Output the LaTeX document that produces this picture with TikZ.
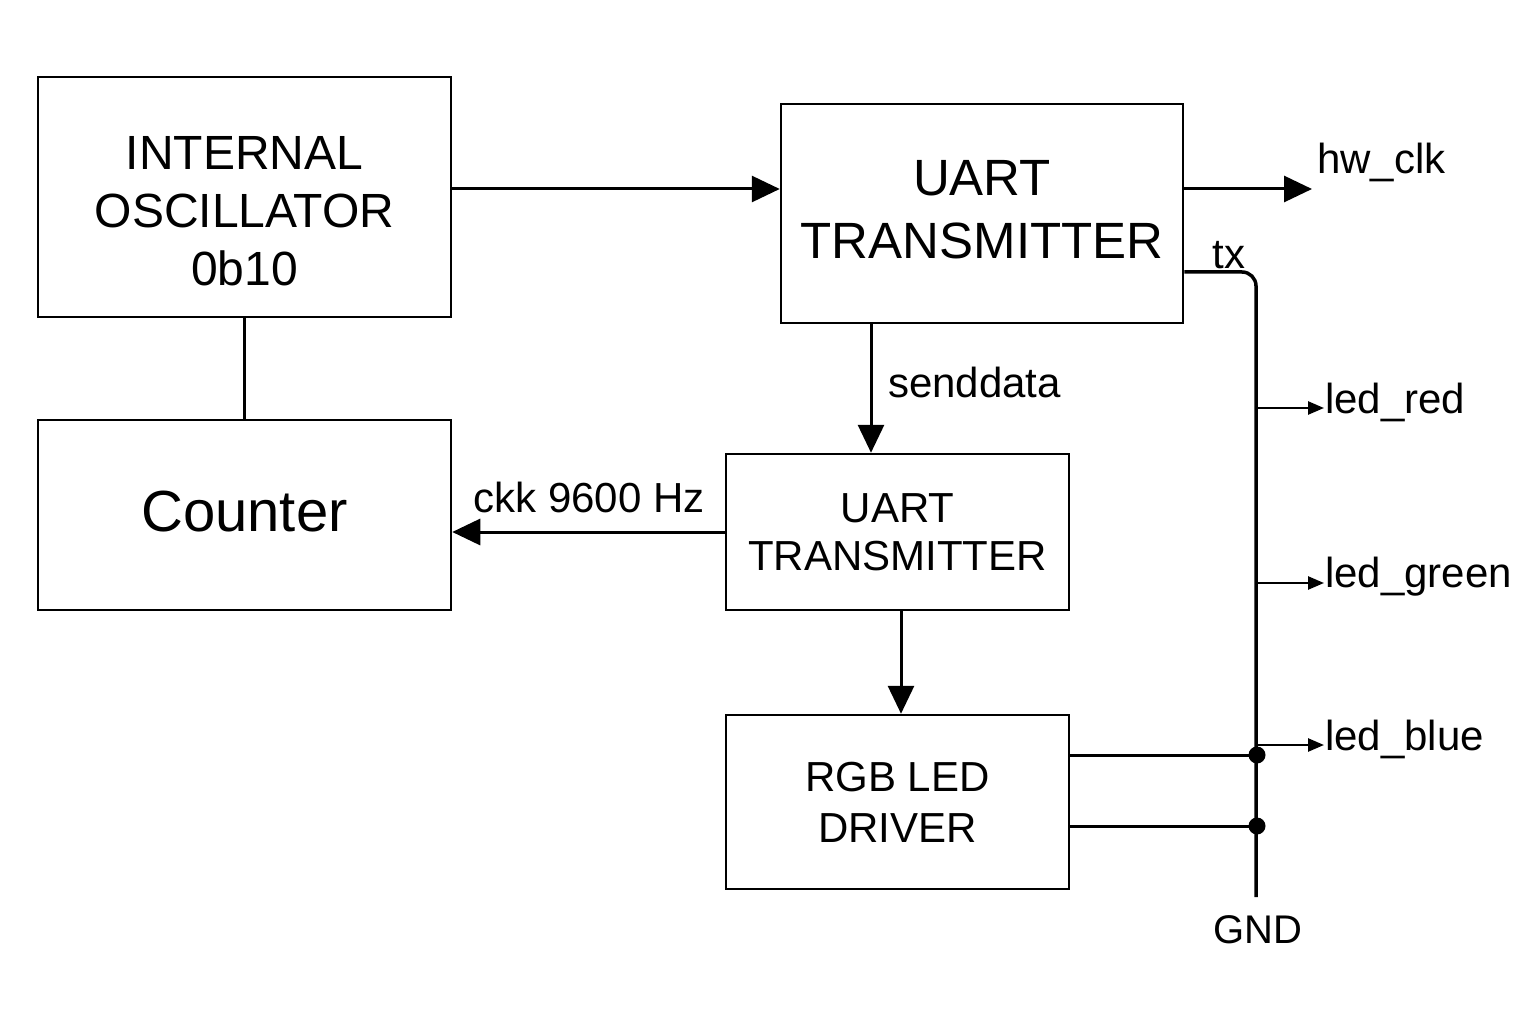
\documentclass[tikz,border=0pt]{standalone}
\usepackage{fontspec}
\setmainfont{Liberation Sans}
\usetikzlibrary{arrows.meta}
\begin{document}
\begin{tikzpicture}[x=1pt,y=-1pt,
  box/.style={draw, line width=2.5pt, align=center, inner sep=0pt},
  wire/.style={line width=3pt},
  bigarr/.style={wire, -{Triangle[length=28pt,width=26pt]}},
  ledarr/.style={line width=2.5pt, -{Triangle[length=16pt,width=13pt]}},
  lbl/.style={inner sep=0pt, font=\fontsize{42}{48}\selectfont},
  dot/.style={fill, circle, inner sep=0pt, minimum size=17pt}
]
\useasboundingbox (0,0) rectangle (1536,1024);

\node[box, minimum width=413pt, minimum height=240pt] (osc) at (244.5,197) {};
\node[align=center, inner sep=0pt, font=\fontsize{48}{58}\selectfont] (osct) at (244.5,211) {INTERNAL\\OSCILLATOR\\0b10};
\node[box, minimum width=413pt, minimum height=190pt] (cnt) at (244.5,515) {};
\node[inner sep=0pt, font=\fontsize{58}{64}\selectfont] (cntt) at (244.5,512) {Counter};
\node[box, minimum width=402pt, minimum height=219pt] (uart) at (982,213.5) {};
\node[align=center, inner sep=0pt, font=\fontsize{51}{63}\selectfont] (uartt) at (982,210) {UART\\TRANSMITTER};
\node[box, minimum width=343pt, minimum height=156pt, font=\fontsize{42}{48}\selectfont] (mid) at (897.5,532) {UART\\TRANSMITTER};
\node[box, minimum width=343pt, minimum height=174pt, font=\fontsize{42}{51}\selectfont] (rgb) at (897.5,802) {RGB LED\\DRIVER};

\coordinate (y189) at (0,189);
\coordinate (ty) at (0,272);
\coordinate (sx) at (871,0);
\coordinate (mx) at (901,0);
\coordinate (gnd) at (1256,897);
\coordinate (hw) at (1312,189);
\coordinate (lr) at (1324,408);
\coordinate (lg) at (1324,583);
\coordinate (lb) at (1324,745);
\coordinate (d1) at (1257,755);
\coordinate (d2) at (1257,826);

\draw[bigarr] (osc.east |- y189) -- (uart.west |- y189);
\draw[bigarr] (uart.east |- y189) -- (hw);
\draw[wire] (osc.south) -- (cnt.north);
\draw[bigarr] (uart.south -| sx) -- (mid.north -| sx);
\draw[bigarr] (mid.west) -- (cnt.east |- mid.west);
\draw[bigarr] (mid.south -| mx) -- (rgb.north -| mx);

\draw[wire, line width=3.5pt, rounded corners=14pt] (uart.east |- ty) -| (gnd);
\draw[ledarr] (gnd |- lr) -- (lr);
\draw[ledarr] (gnd |- lg) -- (lg);
\draw[ledarr] (gnd |- lb) -- (lb);
\draw[wire] (rgb.east |- d1) -- (d1);
\draw[wire] (rgb.east |- d2) -- (d2);
\node[dot] (dot1) at (d1) {};
\node[dot] (dot2) at (d2) {};

\node[lbl, anchor=west] (hwl) at (1317,162) {hw\_clk};
\node[lbl, anchor=west] (lrl) at (1325,402) {led\_red};
\node[lbl, anchor=west] (lgl) at (1325,577) {led\_green};
\node[lbl, anchor=west] (lbl1) at (1325,739) {led\_blue};
\node[lbl, anchor=west] (sdl) at (888,382) {senddata};
\node[lbl] (ckl) at (589,497) {ckk 9600 Hz};
\node[lbl] (txl) at (1229,255) {tx};
\node[lbl, font=\fontsize{40}{46}\selectfont] (gndl) at (1258,930) {GND};
\end{tikzpicture}
\end{document}
